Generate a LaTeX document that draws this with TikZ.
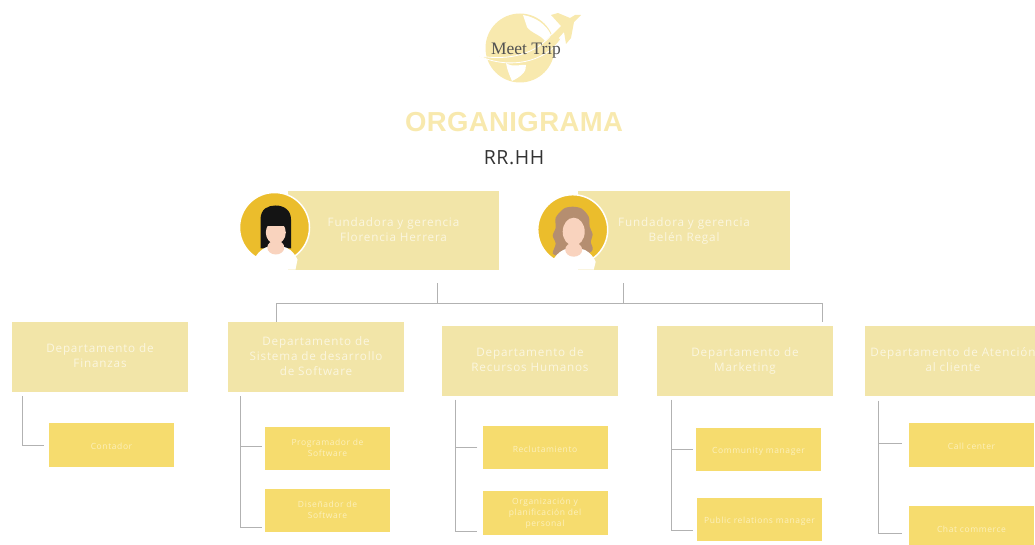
\documentclass[tikz,border=0pt]{standalone}
\usepackage{fontspec}
\usepackage{tikz}
\usetikzlibrary{shapes.geometric,arrows,calc}
\newfontfamily\boxfont[LetterSpace=7]{Open Sans}
\newfontfamily\headfont[LetterSpace=3]{Open Sans}
\newfontfamily\titlefont[LetterSpace=1.5]{Liberation Sans}
\newfontfamily\logofont{Liberation Serif}
\definecolor{pale}{HTML}{F2E5A8}
\definecolor{strong}{HTML}{F6DC6E}
\definecolor{logocol}{HTML}{F8E9AE}
\definecolor{gold}{HTML}{EBBD2C}
\definecolor{skin}{HTML}{F9D3BE}
\definecolor{brownhair}{HTML}{B58E70}
\definecolor{palefont}{HTML}{FBF6DF}
\definecolor{strongfont}{HTML}{FCF0BC}
\tikzset{conn/.style={draw=black!30, line width=1pt}}

\begin{document}
\begin{tikzpicture}[x=1pt,y=-1pt,node distance=90pt]
\tikzstyle{depto} = [rectangle, minimum width=176pt, minimum height=70pt, inner sep=0pt, align=center, fill=pale, text=palefont, font=\boxfont\fontsize{11.7}{15}\selectfont, execute at begin node={\rule{0pt}{12.5pt}}, execute at end node={\rule[-2.5pt]{0pt}{2.5pt}}]
\tikzstyle{cargo} = [rectangle, minimum width=125pt, minimum height=43.5pt, inner sep=0pt, align=center, fill=strong, text=strongfont, font=\boxfont\fontsize{8.5}{11}\selectfont, execute at begin node={\rule{0pt}{10.2pt}}, execute at end node={\rule[-0.8pt]{0pt}{0.8pt}}]
\tikzstyle{fund} = [rectangle, minimum height=79pt, inner sep=0pt, align=center, fill=pale, text=palefont, font=\boxfont\fontsize{11.7}{15}\selectfont, execute at begin node={\rule{0pt}{12.5pt}}, execute at end node={\rule[-2.5pt]{0pt}{2.5pt}}]
\tikzstyle{ava} = [circle, minimum size=70pt, inner sep=0pt, fill=gold, draw=white, line width=1.5pt]

\useasboundingbox (0,0) rectangle (1035,545);

\fill [logocol] (520,48) circle (34.5);
\fill [white] (523,15) .. controls (535,17) and (546,24) .. (551,35) -- (545,41) .. controls (541,35) and (531,33) .. (527,27) -- cycle;
\fill [white] (506,63) .. controls (513,68) and (521,64) .. (526,65) .. controls (527,72) and (520,77) .. (512,81) .. controls (510,76) and (507,70) .. (506,63) -- cycle;
\fill [logocol, draw=white, line width=0.8pt] (479,56) .. controls (510,61) and (536,54) .. (552,34) -- (561,39) .. controls (545,62) and (510,70) .. (479,56) -- cycle;
\fill [logocol] (581,15) -- (574,22) -- (571,38) -- (566,44) -- (564,32) -- (556,41) -- (550,37) -- (561,26) -- (551,15) -- (558,13) -- (570,18) -- (575,15) -- cycle;
\node (logo) at (526,51) [font=\logofont\fontsize{17.5}{19}\selectfont, text=black!68] {Meet Trip};
\node (title) at (514,122.5) [font=\titlefont\bfseries\fontsize{27.5}{30}\selectfont, text=logocol] {ORGANIGRAMA};
\node (sub) at (514,158) [font=\headfont\fontsize{19.5}{21}\selectfont, text=black!80] {RR.HH};

\node (fund1) at (393.5,230.5) [fund, minimum width=211pt] {Fundadora y gerencia\\Florencia Herrera};
\node (fund2) [fund, minimum width=212pt, right of=fund1, xshift=200.5pt] {Fundadora y gerencia\\Belén Regal};
\node (ava1) [ava, left of=fund1, xshift=-29pt, yshift=3pt] {};
\node (ava2) [ava, left of=fund2, xshift=-21.3pt, yshift=0.8pt] {};

\begin{scope}[shift={(ava1)}]
\fill [black!92] (-14,21) -- (-14,-8) .. controls (-14,-19) and (-6,-22) .. (1,-22) .. controls (10,-22) and (16.5,-17) .. (16.5,-8) -- (16.5,21) -- cycle;
\fill [white] (-19,29) .. controls (-15,23) and (-10,20) .. (-6,19) -- (8,19) .. controls (14,20) and (19,24) .. (23,32) -- (21,42) -- (-8,42) -- cycle;
\fill [skin] (1.3,20) ellipse (8.5 and 7);
\fill [skin] (1.3,5) ellipse (10 and 11.5);
\fill [black!92] (-10,-8) rectangle (12.5,-1);
\end{scope}

\begin{scope}[shift={(ava2)}]
\fill [brownhair] plot [smooth cycle] coordinates {(0,-23) (9,-21) (16,-13) (17,-3) (20,5) (18,12) (20,20) (12,25) (-12,26) (-20,24) (-17,14) (-20,6) (-17,-2) (-17,-12) (-9,-21)};
\fill [white] (-19,29) .. controls (-15,23) and (-10,20) .. (-6,19) -- (8,19) .. controls (14,20) and (19,24) .. (23,32) -- (21,40) -- (-8,40) -- cycle;
\fill [skin] (1,20) ellipse (8.5 and 7);
\fill [skin] (1,2) ellipse (11 and 14);
\end{scope}

\node (dep1) at (100,357) [depto] {Departamento de\\Finanzas};
\node (dep2) [depto, right of=dep1, xshift=126pt] {Departamento de\\Sistema de desarrollo\\de Software};
\node (dep3) [depto, right of=dep2, xshift=124pt, yshift=-3.5pt] {Departamento de\\Recursos Humanos};
\node (dep4) [depto, right of=dep3, xshift=125pt] {Departamento de\\Marketing};
\node (dep5) [depto, right of=dep4, xshift=118pt] {Departamento de Atención\\al cliente};

\node (cont) [cargo, below of=dep1, xshift=11.5pt, yshift=2pt] {Contador};
\node (prog) [cargo, below of=dep2, xshift=11.5pt, yshift=-1.5pt] {Programador de\\Software};
\node (dis) [cargo, below of=prog, yshift=28pt] {Diseñador de\\Software};
\node (recl) [cargo, below of=dep3, xshift=15pt, yshift=3pt] {Reclutamiento};
\node (org) [cargo, below of=recl, yshift=24.5pt] {Organización y\\planificación del\\personal};
\node (comm) [cargo, below of=dep4, xshift=13.5pt, yshift=1pt] {Community manager};
\node (pub) [cargo, below of=comm, xshift=1pt, yshift=20pt] {Public relations manager};
\node (call) [cargo, below of=dep5, xshift=18.5pt, yshift=5.5pt] {Call center};
\node (chat) [cargo, below of=call, yshift=7pt] {Chat commerce};

\coordinate (busl) at (276,303);
\coordinate (busr) at (822,303);
\coordinate (f1) at ([xshift=43.5pt,yshift=-13pt]fund1.south);
\coordinate (f2) at ([xshift=-61pt,yshift=-13pt]fund2.south);
\draw [conn] ([xshift=-40pt]dep2.north) -- (busl) -- (busr) -- ([xshift=77pt,yshift=3.5pt]dep4.north);
\draw [conn] (f1) -- (f1 |- busl);
\draw [conn] (f2) -- (f2 |- busl);

\coordinate (t1) at ([xshift=11pt,yshift=-4pt]dep1.south west);
\coordinate (t2) at ([xshift=13pt,yshift=-4pt]dep2.south west);
\coordinate (t3) at ([xshift=14pt,yshift=-4pt]dep3.south west);
\coordinate (t4) at ([xshift=15pt,yshift=-4pt]dep4.south west);
\coordinate (t5) at ([xshift=14pt,yshift=-5pt]dep5.south west);
\coordinate (e2) at ([xshift=-3pt,yshift=-16.5pt]dis.west);
\coordinate (e3) at ([xshift=-5pt,yshift=-18pt]org.west);
\coordinate (e4) at ([xshift=-4pt,yshift=-10.5pt]pub.west);
\coordinate (e5) at ([xshift=-7pt,yshift=-5pt]chat.west);

\draw [conn] (t1) |- ([xshift=-5pt]cont.west);
\draw [conn] (t2) |- (e2);
\draw [conn] ([xshift=-3pt,yshift=2.5pt]prog.west) -- ([yshift=2.5pt]prog.west -| t2);
\draw [conn] (t3) |- (e3);
\draw [conn] ([xshift=-5pt]recl.west) -- (recl.west -| t3);
\draw [conn] (t4) |- (e4);
\draw [conn] ([xshift=-3pt]comm.west) -- (comm.west -| t4);
\draw [conn] (t5) |- (e5);
\draw [conn] ([xshift=-7pt,yshift=2pt]call.west) -- ([yshift=2pt]call.west -| t5);

\end{tikzpicture}
\end{document}
